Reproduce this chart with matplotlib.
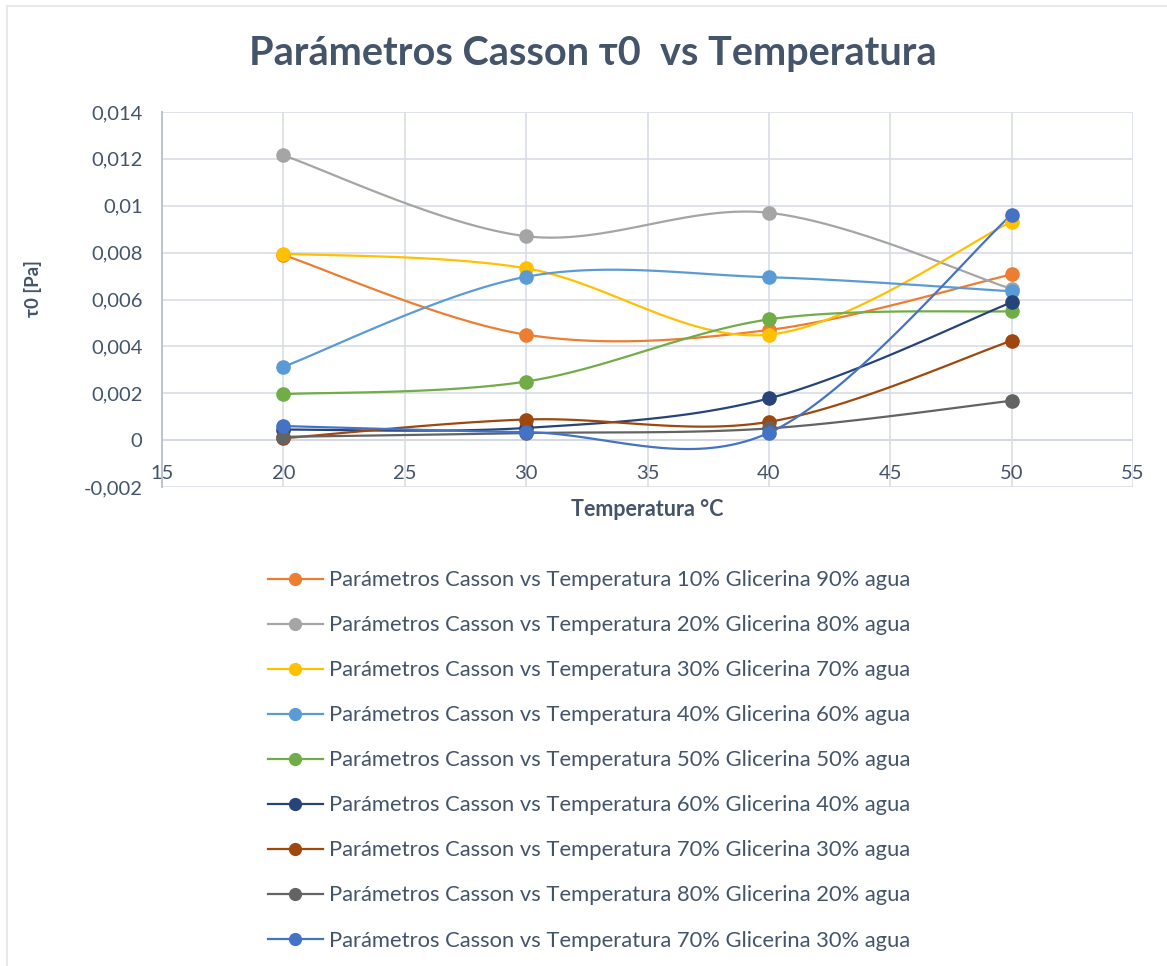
import numpy as np
import matplotlib.pyplot as plt
from matplotlib.lines import Line2D

# Temperatures (°C) and yield stress tau0 (Pa) for each glycerin/water mix
temperatura = [20, 30, 40, 50]

g10_a90 = [0.00790, 0.00450, 0.00470, 0.00707]
g20_a80 = [0.01215, 0.00870, 0.00970, 0.00645]
g30_a70 = [0.00796, 0.00733, 0.00450, 0.00932]
g40_a60 = [0.00313, 0.00697, 0.00695, 0.00635]
g50_a50 = [0.00196, 0.00250, 0.00515, 0.00550]
g60_a40 = [0.00045, 0.00052, 0.00178, 0.00588]
g70_a30 = [0.00008, 0.00088, 0.00078, 0.00424]
g80_a20 = [0.00014, 0.00030, 0.00050, 0.00168]
g70_a30_b = [0.00060, 0.00034, 0.00031, 0.00962]

etiquetas = [
    "Parámetros Casson vs Temperatura 10% Glicerina 90% agua",
    "Parámetros Casson vs Temperatura 20% Glicerina 80% agua",
    "Parámetros Casson vs Temperatura 30% Glicerina 70% agua",
    "Parámetros Casson vs Temperatura 40% Glicerina 60% agua",
    "Parámetros Casson vs Temperatura 50% Glicerina 50% agua",
    "Parámetros Casson vs Temperatura 60% Glicerina 40% agua",
    "Parámetros Casson vs Temperatura 70% Glicerina 30% agua",
    "Parámetros Casson vs Temperatura 80% Glicerina 20% agua",
    "Parámetros Casson vs Temperatura 70% Glicerina 30% agua",
]
series = [g10_a90, g20_a80, g30_a70, g40_a60, g50_a50,
          g60_a40, g70_a30, g80_a20, g70_a30_b]
colores = ["#ED7D31", "#A5A5A5", "#FFC000", "#5B9BD5", "#70AD47",
           "#264478", "#9E480E", "#636363", "#4472C4"]

TXT = "#44546A"
plt.rcParams['font.family'] = ['Lato', 'DejaVu Sans']


def suavizar(x, y, n=40):
    # Excel-style smoothed line: cubic Bezier, Catmull-Rom control points
    x = np.asarray(x, float)
    y = np.asarray(y, float)
    px = np.concatenate([[x[0]], x, [x[-1]]])
    py = np.concatenate([[y[0]], y, [y[-1]]])
    t = np.linspace(0, 1, n)[:, None]
    xs, ys = [], []
    for i in range(len(x) - 1):
        p0 = np.array([px[i + 1], py[i + 1]])
        p3 = np.array([px[i + 2], py[i + 2]])
        c1 = p0 + (np.array([px[i + 2], py[i + 2]]) - np.array([px[i], py[i]])) / 6
        c2 = p3 - (np.array([px[i + 3], py[i + 3]]) - np.array([px[i + 1], py[i + 1]])) / 6
        b = ((1 - t) ** 3) * p0 + 3 * ((1 - t) ** 2) * t * c1 + 3 * (1 - t) * t ** 2 * c2 + t ** 3 * p3
        xs.append(b[:, 0])
        ys.append(b[:, 1])
    return np.concatenate(xs), np.concatenate(ys)


fig = plt.figure(figsize=(11.67, 9.66), dpi=100)
ax = fig.add_axes([162 / 1167, 1 - 487 / 966, (1133 - 162) / 1167, (487 - 112) / 966])

handles = []
for vals, col, lab in zip(series, colores, etiquetas):
    sx, sy = suavizar(temperatura, vals)
    ax.plot(sx, sy, color=col, lw=1.6, zorder=3, solid_capstyle='round')
    ax.plot(temperatura, vals, 'o', color=col, ms=9.5, zorder=4)
    handles.append(Line2D([], [], color=col, lw=1.6, marker='o', ms=8.5))

ax.set_xlim(15, 55)
ax.set_ylim(-0.002, 0.014)
ax.set_xticks(np.arange(15, 56, 5))
ax.set_yticks(np.arange(-0.002, 0.0141, 0.002))
ax.set_yticklabels(["-0,002", "0", "0,002", "0,004", "0,006", "0,008",
                    "0,01", "0,012", "0,014"])
ax.grid(True, color="#D9DDE5", lw=1.2, zorder=0)
ax.axhline(0, color="#BCC3CF", lw=1.4, zorder=1)
for s in ['top', 'right', 'bottom']:
    ax.spines[s].set_visible(False)
ax.spines['left'].set_color("#BCC3CF")
ax.spines['left'].set_linewidth(1.4)

ax.tick_params(axis='both', length=0, labelsize=14.5, labelcolor=TXT)
ax.tick_params(axis='y', pad=14)
# x labels sit just under the zero line
ax.tick_params(axis='x', pad=-15.5)

ax.set_xlabel("Temperatura °C", fontsize=15.5, fontweight='bold', color=TXT)
ax.xaxis.set_label_coords(0.4995, -0.031)
ax.set_ylabel("τ0 [Pa]", fontsize=13.5, fontweight='bold', color=TXT)
ax.yaxis.set_label_coords(-0.124, 0.53)

fig.text(0.508, 0.945, "Parámetros Casson τ0  vs Temperatura", ha='center', va='center',
         fontsize=28.5, fontweight='bold', color=TXT)

fig.legend(handles, etiquetas, loc='upper center', bbox_to_anchor=(0.505, 0.43),
           frameon=False, fontsize=15.8, labelcolor=TXT, handlelength=2.5,
           handletextpad=0.3, labelspacing=1.14)

# thin chart border along top and left edges
fig.add_artist(Line2D([7 / 1167, 1], [1 - 6 / 966, 1 - 6 / 966], color="#E2E5EA", lw=1.2))
fig.add_artist(Line2D([7 / 1167, 7 / 1167], [0, 1 - 6 / 966], color="#E2E5EA", lw=1.2))

fig.savefig("out.png", dpi=100, facecolor='white')
